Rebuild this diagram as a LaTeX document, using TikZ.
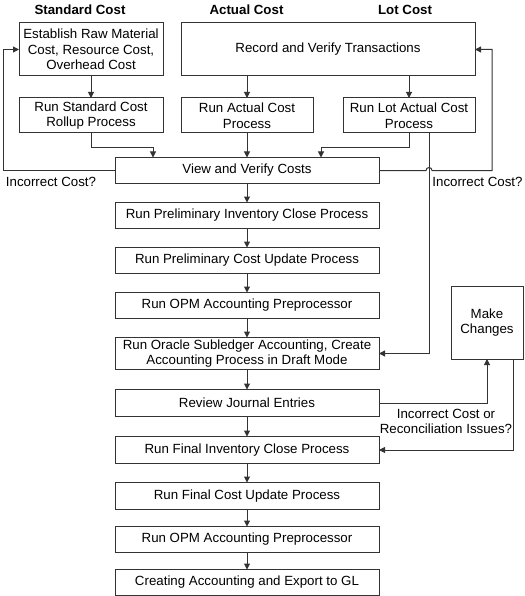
\documentclass[tikz,border=0pt]{standalone}
\usepackage{fontspec}
\setmainfont{Liberation Sans}
\usetikzlibrary{positioning,arrows.meta}
\begin{document}
\begin{tikzpicture}[
		x=1pt, y=-1pt,
		node distance=19pt,
		every node/.style={font=\fontsize{13.3}{15.5}\selectfont, inner sep=0pt, outer sep=0pt},
		box/.style={rectangle, draw=black!80, line width=1pt, fill=white, align=center, minimum height=26pt},
		mainbox/.style={box, minimum width=264pt},
		hdr/.style={font=\fontsize{13.3}{15.5}\selectfont\bfseries},
		lbl/.style={align=center},
		arr/.style={draw=black!80, line width=1pt, -{Triangle[length=6pt,width=6pt]}}
	]
	\useasboundingbox (0,0) rectangle (524,596);
	\node[hdr] (hstd) at (80,10) {Standard Cost};
	\node[hdr] (hact) at (246.5,10) {Actual Cost};
	\node[hdr] (hlot) at (405,10) {Lot Cost};
	\node[box, minimum width=144pt, minimum height=53pt] (est) at (91,49.5) {Establish Raw Material\\Cost, Resource Cost,\\Overhead Cost};
	\node[box, minimum width=294pt, minimum height=53pt] (rec) at (328,49.5) {Record and Verify Transactions};
	\node[box, minimum width=144pt, minimum height=35pt] (roll) at (91,115.5) {Run Standard Cost\\Rollup Process};
	\node[box, minimum width=132pt, minimum height=35pt] (ract) at (247,115.5) {Run Actual Cost\\Process};
	\node[box, minimum width=132pt, minimum height=35pt] (rlot) at (409,115.5) {Run Lot Actual Cost\\Process};
	\node[mainbox] (view) at (247,170.5) {View and Verify Costs};
	\node[mainbox, below=of view] (pinv) {Run Preliminary Inventory Close Process};
	\node[mainbox, below=of pinv] (pcost) {Run Preliminary Cost Update Process};
	\node[mainbox, below=of pcost] (opm1) {Run OPM Accounting Preprocessor};
	\node[mainbox, below=of opm1, minimum height=32pt] (sla) {Run Oracle Subledger Accounting, Create\\Accounting Process in Draft Mode};
	\node[mainbox, below=20pt of sla, minimum height=27pt] (rev) {Review Journal Entries};
	\node[mainbox, below=20pt of rev, minimum height=27pt] (finv) {Run Final Inventory Close Process};
	\node[mainbox, below=of finv, minimum height=27pt] (fcost) {Run Final Cost Update Process};
	\node[mainbox, below=17pt of fcost] (opm2) {Run OPM Accounting Preprocessor};
	\node[mainbox, below=17pt of opm2] (gl) {Creating Accounting and Export to GL};
	\node[box, minimum width=72pt, minimum height=73pt] (make) at (487,322.5) {Make\\Changes};
	\node[lbl] (inc1) at (51,182) {Incorrect Cost?};
	\node[lbl] (inc2) at (477.5,182) {Incorrect Cost?};
	\node[lbl] (inc3) at (446,421.5) {Incorrect Cost or\\Reconciliation Issues?};
	\coordinate (jstd) at (153,148);
	\coordinate (jlot) at (321,148);
	\draw[arr] (est) -- (roll);
	\draw[arr] (rec.south -| ract) -- (ract);
	\draw[arr] (rec.south -| rlot) -- (rlot);
	\draw[arr] (roll.south) |- (jstd) -- (jstd |- view.north);
	\draw[arr] (ract) -- (view);
	\draw[arr] (rlot.south) |- (jlot) -- (jlot |- view.north);
	\draw[arr] (view.west) -- ++(-112,0) |- (est.west);
	\draw[arr] (view.east) -- (426,170.5) arc[start angle=180, end angle=0, radius=3pt] -- (492,170.5) |- (rec.east);
	\draw[arr] ([xshift=20pt]rlot.south) |- (sla.east);
	\foreach \a/\b in {view/pinv, pinv/pcost, pcost/opm1, opm1/sla, sla/rev, rev/finv, finv/fcost, fcost/opm2, opm2/gl}
		\draw[arr] (\a) -- (\b);
	\draw[arr] (rev.east) -| (make.south);
	\draw[arr] ([xshift=26pt]make.south) |- (finv.east);
\end{tikzpicture}
\end{document}
